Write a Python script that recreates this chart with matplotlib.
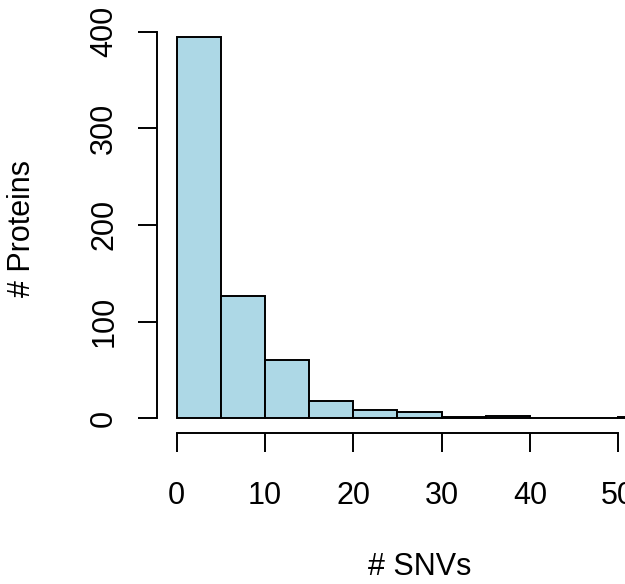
import matplotlib
matplotlib.use("Agg")
import matplotlib.pyplot as plt

# histogram of SNVs per protein (bin width 5)
bin_left = [0, 5, 10, 15, 20, 25, 30, 35, 40, 45, 50]
counts = [395, 126, 60, 18, 8, 6, 1, 2, 0, 0, 1]
x_ticks = [0, 10, 20, 30, 40, 50]
y_ticks = [0, 100, 200, 300, 400]

plt.rcParams['font.family'] = ['Liberation Sans', 'DejaVu Sans']

W, H = 625, 584
fig = plt.figure(figsize=(W / 100, H / 100), dpi=100)

# pixel geometry of the plot region (R style 4% padding)
x0_px, px_per_x = 176.7, 8.83
y0_px, px_per_y = 418.1, 0.966
xlim = (-2.2, 57.2)
ylim = (-15.8, 410.8)
l_px = x0_px + xlim[0] * px_per_x
r_px = x0_px + xlim[1] * px_per_x
b_px = y0_px - ylim[0] * px_per_y
t_px = y0_px - ylim[1] * px_per_y

ax = fig.add_axes([l_px / W, 1 - b_px / H, (r_px - l_px) / W, (b_px - t_px) / H])
ax.set_xlim(*xlim)
ax.set_ylim(*ylim)

ax.bar(bin_left, counts, width=5, align='edge', color='#ADD8E6',
       edgecolor='black', linewidth=1.4)

for s in ['top', 'right']:
    ax.spines[s].set_visible(False)
ax.spines['bottom'].set_bounds(0, 50)
ax.spines['left'].set_bounds(0, 400)
ax.spines['bottom'].set_linewidth(1.4)
ax.spines['left'].set_linewidth(1.4)

ax.set_xticks(x_ticks)
ax.set_yticks(y_ticks)
ax.set_yticklabels([str(v) for v in y_ticks], rotation=90, va='center')
ax.tick_params(axis='both', length=13.7, width=1.4, labelsize=22)
ax.tick_params(axis='x', pad=20.5)
ax.tick_params(axis='y', pad=13.7)

fig.text(420 / W, 1 - 567 / H, '# SNVs', ha='center', va='center', fontsize=22)
fig.text(22 / W, 1 - 228.5 / H, '# Proteins', ha='center', va='center',
         rotation=90, fontsize=22)

fig.savefig('out.png', dpi=100)
